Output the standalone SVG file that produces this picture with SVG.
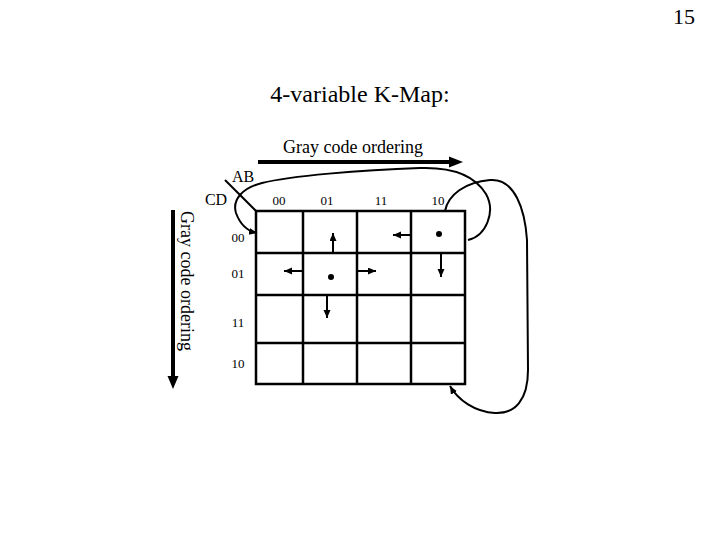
<svg xmlns="http://www.w3.org/2000/svg" width="720" height="540" viewBox="0 0 720 540">
<style>
text{font-family:"Liberation Serif","Times New Roman",serif;fill:#000}
.lbl{font-size:13px;text-anchor:middle}
.grid{stroke:#000;stroke-width:2.5;fill:none}
.sa{stroke:#000;stroke-width:2;fill:none;marker-end:url(#ah)}
.cv{stroke:#000;stroke-width:2;fill:none}
</style>
<defs>
<marker id="ah" markerUnits="userSpaceOnUse" markerWidth="9" markerHeight="8" refX="8" refY="3.5" orient="auto">
<path d="M0,0 L8,3.5 L0,7 z" fill="#000"/>
</marker>
</defs>
<rect width="720" height="540" fill="#fff"/>
<text x="684" y="24" font-size="22" text-anchor="middle">15</text>
<text x="360" y="102" font-size="24" text-anchor="middle">4-variable K-Map:</text>
<g id="top-ordering">
<text x="353" y="153" font-size="18" text-anchor="middle">Gray code ordering</text>
<line x1="258" y1="162" x2="451" y2="162" stroke="#000" stroke-width="4"/>
<polygon points="449,156.5 463,162 449,167.5" fill="#000"/>
</g>
<g id="left-ordering">
<text transform="translate(181,281) rotate(90)" font-size="18" text-anchor="middle">Gray code ordering</text>
<line x1="173" y1="210" x2="173" y2="378" stroke="#000" stroke-width="4"/>
<polygon points="167.5,376 173,389 178.5,376" fill="#000"/>
</g>
<g id="corner">
<line x1="225" y1="180" x2="256" y2="211" stroke="#000" stroke-width="2"/>
<text x="243" y="182" font-size="16" text-anchor="middle">AB</text>
<text x="216" y="205" font-size="16" text-anchor="middle">CD</text>
</g>
<g id="col-labels">
<text class="lbl" x="279" y="205">00</text>
<text class="lbl" x="327" y="205">01</text>
<text class="lbl" x="381" y="205">11</text>
<text class="lbl" x="438" y="205">10</text>
</g>
<g id="row-labels">
<text class="lbl" x="238" y="242">00</text>
<text class="lbl" x="238" y="278">01</text>
<text class="lbl" x="238" y="327">11</text>
<text class="lbl" x="238" y="368">10</text>
</g>
<g id="kmap-grid">
<rect class="grid" x="256" y="211" width="209" height="173"/>
<line class="grid" x1="303" y1="211" x2="303" y2="384"/>
<line class="grid" x1="357" y1="211" x2="357" y2="384"/>
<line class="grid" x1="411" y1="211" x2="411" y2="384"/>
<line class="grid" x1="256" y1="253" x2="465" y2="253"/>
<line class="grid" x1="256" y1="295" x2="465" y2="295"/>
<line class="grid" x1="256" y1="343" x2="465" y2="343"/>
</g>
<g id="cell-marks">
<circle cx="439" cy="234" r="3" fill="#000"/>
<circle cx="331" cy="277" r="3" fill="#000"/>
</g>
<g id="connectors">
<line class="sa" x1="333" y1="253" x2="333" y2="233"/>
<line class="sa" x1="411" y1="235" x2="393" y2="235"/>
<line class="sa" x1="441" y1="253" x2="441" y2="277"/>
<line class="sa" x1="303" y1="271" x2="284" y2="271"/>
<line class="sa" x1="357" y1="271" x2="376" y2="271"/>
<line class="sa" x1="327" y1="295" x2="327" y2="318"/>
<path class="cv" marker-end="url(#ah)" d="M468,240 C486,236 496,212 486,194 C474,174 450,167 420,168 C360,170 290,176 262,183 C242,188 232,200 236,213 C240,224 247,231 257,233"/>
<path class="cv" marker-end="url(#ah)" d="M445,211 C448,195 465,182 490,180 C515,178 525,210 527,240 L528,370 C528,400 515,414 495,413 C475,412 458,400 450,386"/>
</g>
</svg>
